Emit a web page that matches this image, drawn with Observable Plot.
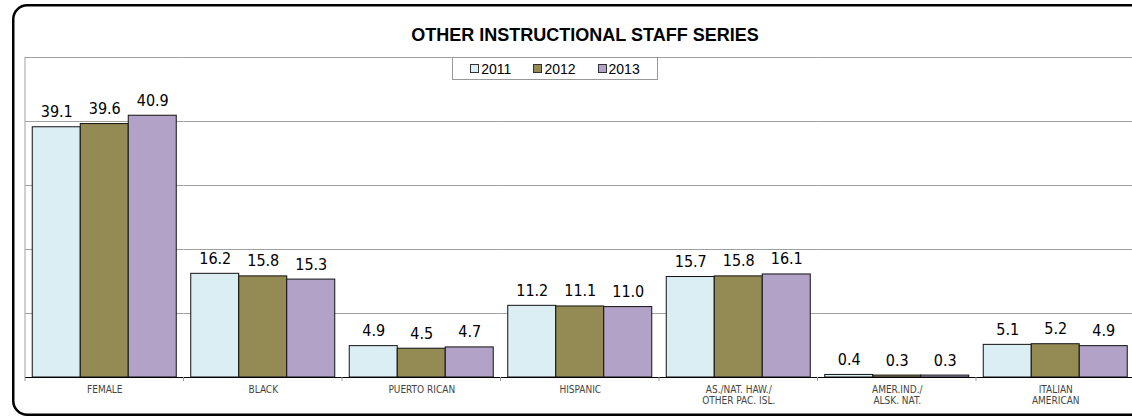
<!DOCTYPE html>
<html>
<head>
<meta charset="utf-8">
<script src="https://cdn.jsdelivr.net/npm/d3@7"></script>
<script src="https://cdn.jsdelivr.net/npm/@observablehq/plot@0.6"></script>
<style>
  html, body { margin: 0; padding: 0; background: #fff; overflow: hidden; }
  #wrap { position: relative; width: 1132px; height: 419px; overflow: hidden; background: #fff; }
  #deco { position: absolute; left: 0; top: 0; }
  #title { position: absolute; left: 0; width: 1170px; top: 25px; text-align: center; font: bold 18px "Liberation Sans", Arial, sans-serif; color: #000; line-height: 20px; }
  #legend { position: absolute; left: 452px; top: 57px; width: 206px; height: 23px; box-sizing: border-box; border: 1px solid #999; background: #fff; font: 14px "Liberation Sans", Arial, sans-serif; color: #000; display: flex; align-items: center; justify-content: center; gap: 22px; z-index: 2; }
  #legend span.item { display: inline-flex; align-items: center; }
  #legend span.sw { display: inline-block; width: 7px; height: 7px; border: 1px solid #333; margin-right: 2px; }
  #chart { position: absolute; left: 0; top: 0; width: 1132px; overflow: hidden; }
  #chart svg { max-width: none !important; display: block; }
</style>
</head>
<body>
<div id="wrap">
  <div id="chart"></div>
  <svg id="deco" width="1132" height="419"></svg>
  <div id="title">OTHER INSTRUCTIONAL STAFF SERIES</div>
  <div id="legend"></div>
</div>
<script>
const categories = ["FEMALE", "BLACK", "PUERTO RICAN", "HISPANIC", "AS./NAT. HAW./\nOTHER PAC. ISL.", "AMER.IND./\nALSK. NAT.", "ITALIAN\nAMERICAN"];
const years = ["2011", "2012", "2013"];
const values2011 = [39.1, 16.2, 4.9, 11.2, 15.7, 0.4, 5.1];
const values2012 = [39.6, 15.8, 4.5, 11.1, 15.8, 0.3, 5.2];
const values2013 = [40.9, 15.3, 4.7, 11.0, 16.1, 0.3, 4.9];
const yTicks = [0, 10, 20, 30, 40, 50];
const colors = ["#DBEEF4", "#948A54", "#B3A2C7"];

const series = [values2011, values2012, values2013];
const data = [];
categories.forEach((c, i) => years.forEach((y, j) => data.push({cat: c, year: y, value: series[j][i]})));

const narrow = '"Liberation Sans Narrow", "Arial Narrow", "DejaVu Sans Condensed", sans-serif';

const chart = Plot.plot({
  width: 1150,
  height: 419,
  marginTop: 57,
  marginBottom: 42,
  marginLeft: 25,
  marginRight: 15.5,
  style: {fontFamily: narrow, background: "transparent", maxWidth: "none"},
  fx: {domain: categories, padding: 0, round: false, axis: null},
  x: {type: "band", domain: years, paddingInner: 0, paddingOuter: 0.151, round: false, axis: null},
  y: {domain: [0, 50], axis: null},
  color: {domain: years, range: colors},
  marks: [
    Plot.ruleY(yTicks.slice(1), {stroke: "#a0a0a0", strokeWidth: 1}),
    Plot.barY(data, {fx: "cat", x: "year", y: "value", fill: "year", stroke: "#111", strokeWidth: 1, inset: 0}),
    Plot.text(data, {fx: "cat", x: "year", y: "value", text: d => d.value.toFixed(1), dy: -10, lineAnchor: "bottom", fontSize: 16, fill: "#000", fontFamily: narrow}),
    Plot.ruleY([0], {stroke: "#000", strokeWidth: 1}),
    Plot.axisFx({anchor: "bottom", tickSize: 0, tickPadding: 8, fontSize: 10, lineHeight: 1.1, fill: "#444", fontFamily: narrow, label: null})
  ]
});
document.getElementById("chart").appendChild(chart);

// frame line and category boundary ticks, from the library's scales
const fx = chart.scale("fx"), ys = chart.scale("y");
const svg = d3.select(chart);
const y0 = ys.apply(0), yTop = ys.apply(50);
const g = svg.append("g");
g.append("line").attr("x1", fx.apply(categories[0])).attr("x2", fx.apply(categories[0]))
  .attr("y1", yTop).attr("y2", y0).attr("stroke", "#a0a0a0");
const bounds = categories.map(c => fx.apply(c)).concat([fx.apply(categories[categories.length - 1]) + fx.bandwidth]);
bounds.forEach(x => g.append("line").attr("x1", x).attr("x2", x).attr("y1", y0).attr("y2", y0 + 4).attr("stroke", "#999"));

// outer rounded frame, open on the right (cut off by the picture edge)
const L = 13.25, T = 5.25, B = 414.75, R = 14;
d3.select("#deco").append("path")
  .attr("d", `M1200,${T}H${L + R}A${R},${R} 0 0 0 ${L},${T + R}V${B - R}A${R},${R} 0 0 0 ${L + R},${B}H1200`)
  .attr("fill", "none").attr("stroke", "#000").attr("stroke-width", 2.5);

// legend
const leg = d3.select("#legend");
years.forEach((y, j) => {
  const it = leg.append("span").attr("class", "item");
  it.append("span").attr("class", "sw").style("background", colors[j]);
  it.append("span").text(y);
});
</script>
</body>
</html>
